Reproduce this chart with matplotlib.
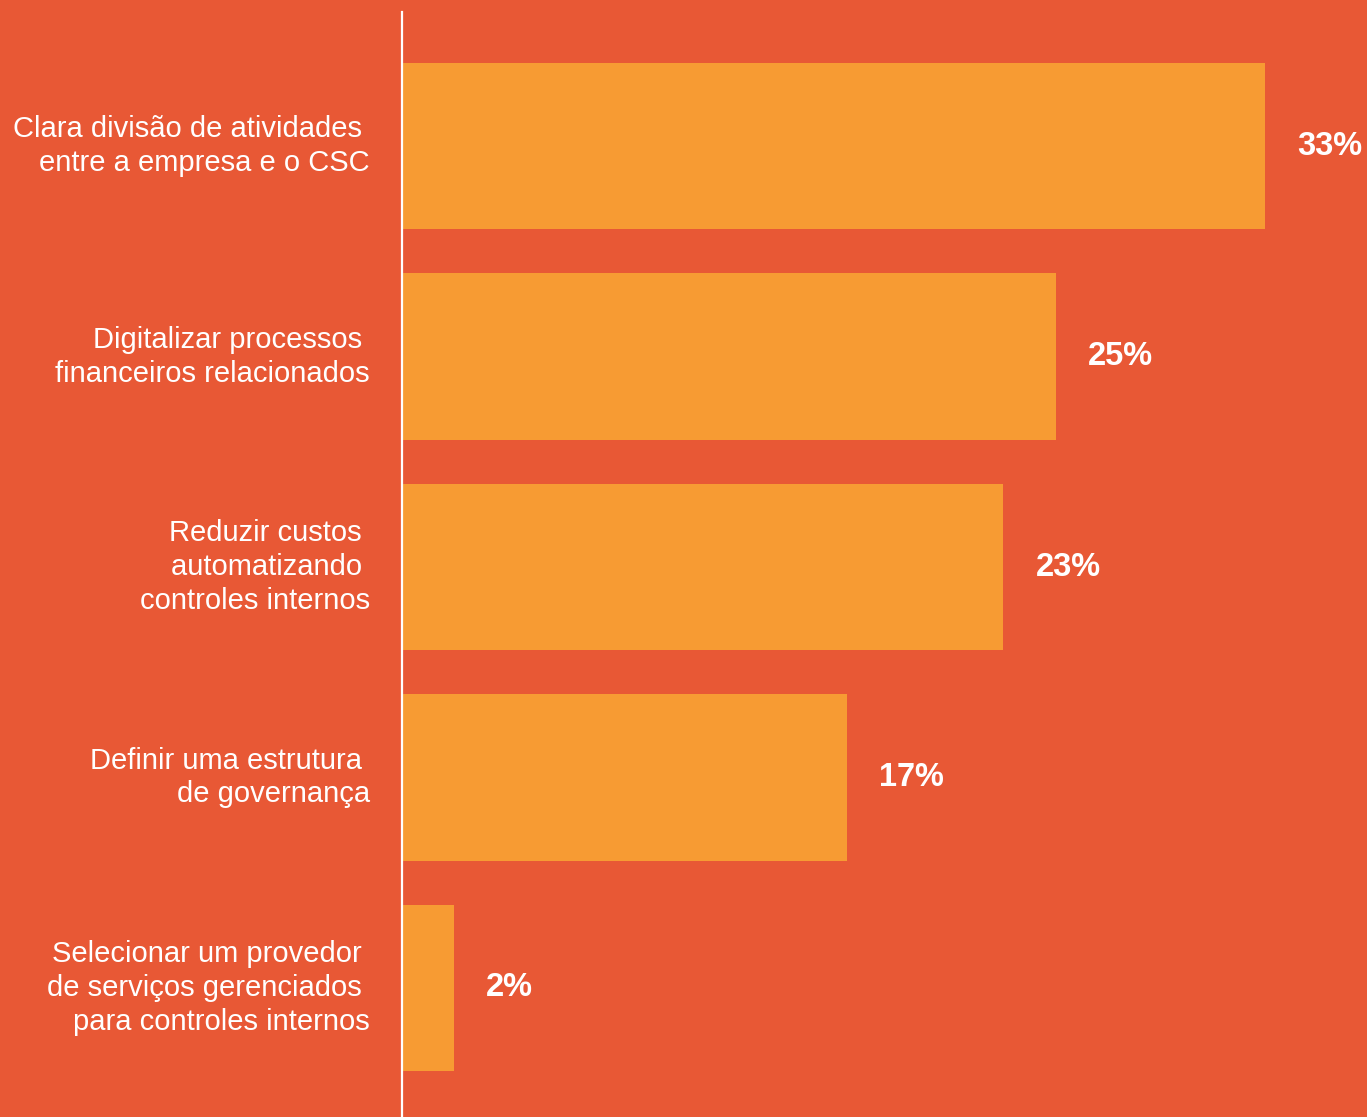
import matplotlib.pyplot as plt

# survey results: share of respondents per priority
categories = [
    "Clara divisão de atividades \nentre a empresa e o CSC",
    "Digitalizar processos \nfinanceiros relacionados",
    "Reduzir custos \nautomatizando \ncontroles internos",
    "Definir uma estrutura \nde governança",
    "Selecionar um provedor \nde serviços gerenciados \npara controles internos",
]
values = [33, 25, 23, 17, 2]
value_labels = ["33%", "25%", "23%", "17%", "2%"]

BG = "#E85835"
BAR = "#F79B33"

plt.rcParams["font.family"] = ["Liberation Sans", "DejaVu Sans"]

fig = plt.figure(figsize=(13.67, 11.17), dpi=100, facecolor=BG)
W, H = 1367, 1117
ax = fig.add_axes([402 / W, 0, (W - 402) / W, (H - 12) / H])
ax.set_facecolor(BG)

ypos = list(range(len(values)))
ax.barh(ypos, values, height=0.79, color=BAR, zorder=1)

ax.set_xlim(0, 33 * (W - 402) / 863)
ax.set_ylim(4 + 0.613, -0.637)

for spine in ["top", "right", "bottom"]:
    ax.spines[spine].set_visible(False)
ax.spines["left"].set_color("white")
ax.spines["left"].set_linewidth(1.6)
ax.spines["left"].set_zorder(3)
ax.set_xticks([])
ax.set_yticks([])

# category labels, right-aligned left of the axis line
for y, text in zip(ypos, categories):
    ax.annotate(text, xy=(0, y), xycoords=("axes fraction", "data"),
                xytext=(-23, 0), textcoords="offset points",
                ha="right", va="center", multialignment="right",
                color="white", fontsize=21, linespacing=1.27)

# value labels after each bar
for y, v, lab in zip(ypos, values, value_labels):
    ax.annotate(lab, xy=(v, y), xytext=(23, 0), textcoords="offset points",
                ha="left", va="center", color="white",
                fontsize=23.5, fontweight="bold")

fig.savefig("out.png", dpi=100, facecolor=BG)
